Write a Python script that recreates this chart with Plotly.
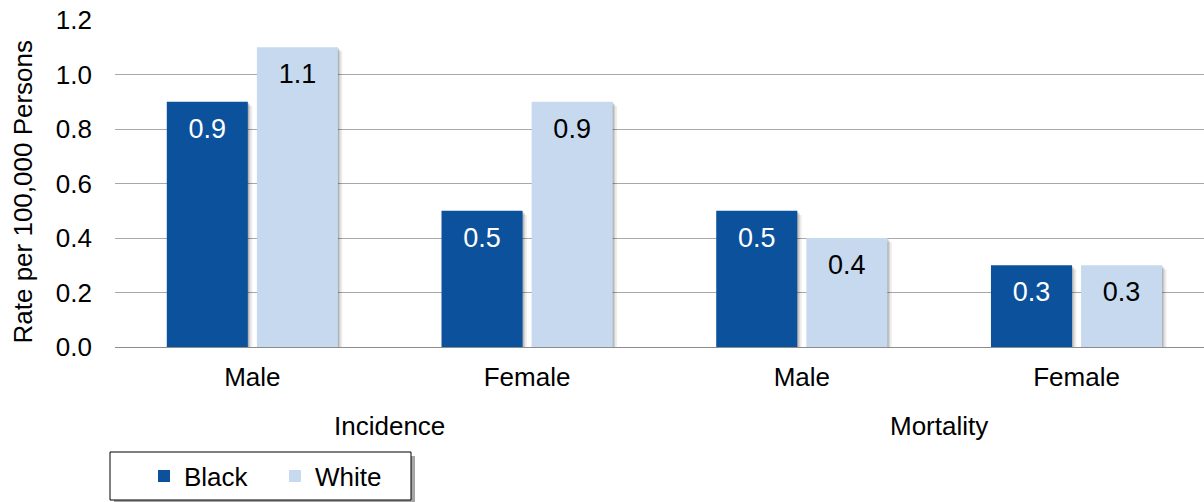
import plotly.graph_objects as go

categories = ["Male", "Female", "Male", "Female"]
groups = ["Incidence", "Mortality"]
black_values = [0.9, 0.5, 0.5, 0.3]
white_values = [1.1, 0.9, 0.4, 0.3]
y_ticks = [0.0, 0.2, 0.4, 0.6, 0.8, 1.0, 1.2]
y_tick_labels = ["0.0", "0.2", "0.4", "0.6", "0.8", "1.0", "1.2"]

DARK = "#0B519B"
LIGHT = "#C6D9EF"
FONT = "Liberation Sans, Arial, sans-serif"

xs = list(range(len(categories)))
BW = 0.295
centers = {"Black": -0.164, "White": 0.164}

fig = go.Figure()

series = [("Black", black_values, DARK, "white"), ("White", white_values, LIGHT, "black")]

# shadows
for name, vals, col, tcol in series:
    for d, a in [(0.016, 0.07), (0.009, 0.12), (0.004, 0.15)]:
        fig.add_trace(go.Bar(
            x=xs, y=vals, base=[-d] * len(vals),
            offset=centers[name] - BW / 2 + d, width=BW,
            marker=dict(color=f"rgba(0,0,0,{a})", line=dict(width=0)),
            showlegend=False, hoverinfo="skip"))

for name, vals, col, tcol in series:
    fig.add_trace(go.Bar(
        x=xs, y=vals, name=name,
        offset=centers[name] - BW / 2, width=BW,
        marker=dict(color=col, line=dict(width=0)),
        hoverinfo="skip"))

for name, vals, col, tcol in series:
    fig.add_trace(go.Scatter(
        x=[x + centers[name] for x in xs], y=[v - 0.108 for v in vals],
        mode="text", text=[f"{v:.1f}" for v in vals],
        textfont=dict(family=FONT, size=27, color=tcol),
        showlegend=False, hoverinfo="skip", cliponaxis=False))

annotations = [
    dict(x=0.5, y=0, xref="x", yref="paper", text=groups[0], showarrow=False,
         yshift=-79, yanchor="middle", font=dict(family=FONT, size=26, color="black")),
    dict(x=2.5, y=0, xref="x", yref="paper", text=groups[1], showarrow=False,
         yshift=-79, yanchor="middle", font=dict(family=FONT, size=26, color="black")),
    dict(x=0, y=0.5, xref="paper", yref="paper", text="Rate per 100,000 Persons",
         textangle=-90, showarrow=False, xanchor="center", yanchor="middle",
         xshift=-93, yshift=-8,
         font=dict(family=FONT, size=26, color="black")),
]

PW = 1204 - 115
PH = 347 - 20
def px(x):
    return (x - 115) / PW
def py(y):
    return (347 - y) / PH

shapes = [
    dict(type="rect", xref="paper", yref="paper", x0=px(114), x1=px(415), y0=py(504), y1=py(456),
         fillcolor="rgba(0,0,0,0.35)", line=dict(width=0), layer="below"),
    dict(type="rect", xref="paper", yref="paper", x0=px(110), x1=px(411), y0=py(500), y1=py(452),
         fillcolor="white", line=dict(color="black", width=1), layer="below"),
]

fig.update_layout(
    width=1204, height=502,
    margin=dict(l=115, r=0, t=20, b=155),
    paper_bgcolor="white", plot_bgcolor="white",
    barmode="overlay",
    font=dict(family=FONT, color="black"),
    xaxis=dict(range=[-0.5, 3.464], tickvals=xs, ticktext=categories,
               tickfont=dict(family=FONT, size=26, color="black"),
               showgrid=False, zeroline=False, showline=False, ticks="",
               ticklabelstandoff=12, fixedrange=True),
    yaxis=dict(range=[0, 1.2], tickvals=y_ticks, ticktext=y_tick_labels,
               tickfont=dict(family=FONT, size=26, color="black"),
               showgrid=True, gridcolor="#A8A8A8", gridwidth=1,
               zeroline=True, zerolinecolor="#8C8C8C", zerolinewidth=1,
               showline=False, ticks="", ticklabelstandoff=22, fixedrange=True),
    legend=dict(orientation="h", x=px(144), y=py(476), xanchor="left", yanchor="middle",
                xref="paper", yref="paper", bgcolor="rgba(0,0,0,0)",
                font=dict(family=FONT, size=26, color="black"),
                entrywidth=86, itemsizing="constant", traceorder="normal"),
    annotations=annotations,
    shapes=shapes,
    showlegend=True,
)

fig.write_html("out.html")
